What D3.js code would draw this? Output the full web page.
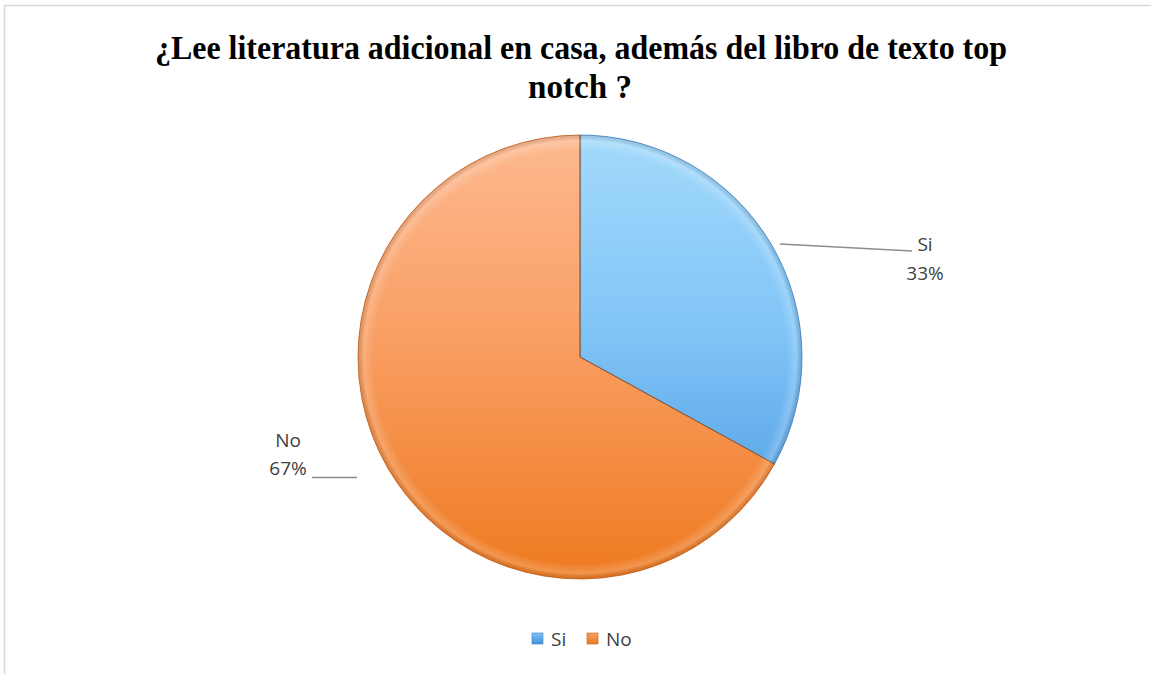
<!DOCTYPE html>
<html>
<head>
<meta charset="utf-8">
<script src="https://cdn.jsdelivr.net/npm/d3@7"></script>
<style>
  html, body { margin: 0; padding: 0; background: #fff; }
  svg { display: block; }
</style>
</head>
<body>
<svg id="chart" width="1151" height="674"></svg>
<script>
const categories = ["Si", "No"];
const values = [33, 67];
const percentLabels = ["33%", "67%"];
const titleLines = ["¿Lee literatura adicional en casa, además del libro de texto top", "notch ?"];

const colorTop = ["#a3dafb", "#fdb990"];
const colorMid = ["#80c4f7", "#f99f64"];
const colorBot = ["#4393de", "#ee7a20"];
const edgeColor = ["#3d7fc0", "#c8601a"];

const svg = d3.select("#chart");
const W = 1151, H = 674;
const cx = 580, cy = 357, R = 222;

// frame
svg.append("rect").attr("x", 4.5).attr("y", 5.5).attr("width", W + 10).attr("height", H + 10)
  .attr("fill", "none").attr("stroke", "#d9d9d9").attr("stroke-width", 1.5);

// title
const title = svg.append("g").attr("font-family", "'Liberation Serif', 'Times New Roman', serif")
  .attr("font-weight", "bold").attr("font-size", 33).attr("fill", "#000");
title.append("text").attr("x", 581).attr("y", 59).attr("text-anchor", "middle")
  .attr("textLength", 852).attr("lengthAdjust", "spacingAndGlyphs").text(titleLines[0]);
title.append("text").attr("x", 580).attr("y", 98).attr("text-anchor", "middle")
  .attr("textLength", 104).attr("lengthAdjust", "spacingAndGlyphs").text(titleLines[1]);

// gradients (in pie-group coordinates, centred at 0,0)
const defs = svg.append("defs");
categories.forEach((c, i) => {
  const g = defs.append("linearGradient").attr("id", "grad" + i)
    .attr("gradientUnits", "userSpaceOnUse")
    .attr("x1", 0).attr("y1", -R).attr("x2", 0).attr("y2", R);
  g.append("stop").attr("offset", "0%").attr("stop-color", colorTop[i]);
  g.append("stop").attr("offset", "45%").attr("stop-color", colorMid[i]);
  g.append("stop").attr("offset", "100%").attr("stop-color", colorBot[i]);
});
const rg = defs.append("radialGradient").attr("id", "rim")
  .attr("gradientUnits", "userSpaceOnUse").attr("cx", 0).attr("cy", 0).attr("r", R);
rg.append("stop").attr("offset", "93%").attr("stop-color", "#fff").attr("stop-opacity", 0);
rg.append("stop").attr("offset", "97.5%").attr("stop-color", "#fff").attr("stop-opacity", 0.2);
rg.append("stop").attr("offset", "100%").attr("stop-color", "#000").attr("stop-opacity", 0.1);

const pie = d3.pie().sort(null).value(d => d)(values);
const arc = d3.arc().innerRadius(0).outerRadius(R);

const gPie = svg.append("g").attr("transform", `translate(${cx},${cy})`);
gPie.selectAll("path.slice").data(pie).join("path").attr("class", "slice")
  .attr("d", arc)
  .attr("fill", (d, i) => `url(#grad${i})`)
  .attr("stroke", (d, i) => edgeColor[i]).attr("stroke-width", 0.8);
gPie.append("circle").attr("r", R).attr("fill", "url(#rim)").attr("pointer-events", "none");
// divider lines
pie.forEach(d => {
  const a = d.startAngle;
  gPie.append("line").attr("x1", 0).attr("y1", 0)
    .attr("x2", R * Math.sin(a)).attr("y2", -R * Math.cos(a))
    .attr("stroke", "#5a4a40").attr("stroke-opacity", 0.6).attr("stroke-width", 1);
});

// labels with leader lines
const lab = svg.append("g").attr("font-family", "'Open Sans', 'Liberation Sans', sans-serif")
  .attr("font-size", 19).attr("fill", "#404040");
const labelPos = [
  { line: [[780, 244], [912, 251]], tx: 925, ty: [251, 280] },
  { line: [[312, 477.5], [357, 477.5]], tx: 288, ty: [447, 475] }
];
labelPos.forEach((p, i) => {
  svg.append("line").attr("x1", p.line[0][0]).attr("y1", p.line[0][1])
    .attr("x2", p.line[1][0]).attr("y2", p.line[1][1])
    .attr("stroke", "#8c8c8c").attr("stroke-width", 1.5);
  lab.append("text").attr("x", p.tx).attr("y", p.ty[0]).attr("text-anchor", "middle").text(categories[i]);
  lab.append("text").attr("x", p.tx).attr("y", p.ty[1]).attr("text-anchor", "middle").text(percentLabels[i]);
});

// legend
const leg = svg.append("g").attr("font-family", "'Open Sans', 'Liberation Sans', sans-serif")
  .attr("font-size", 19).attr("fill", "#404040");
const legX = [532, 587];
categories.forEach((c, i) => {
  const g = defs.append("linearGradient").attr("id", "lg" + i).attr("x1", 0).attr("y1", 0).attr("x2", 0).attr("y2", 1);
  g.append("stop").attr("offset", "0%").attr("stop-color", colorMid[i]);
  g.append("stop").attr("offset", "100%").attr("stop-color", colorBot[i]);
  leg.append("rect").attr("x", legX[i]).attr("y", 633).attr("width", 11).attr("height", 11)
    .attr("fill", `url(#lg${i})`).attr("stroke", edgeColor[i]).attr("stroke-width", 0.6);
  leg.append("text").attr("x", legX[i] + 19).attr("y", 646).text(c);
});
</script>
</body>
</html>
